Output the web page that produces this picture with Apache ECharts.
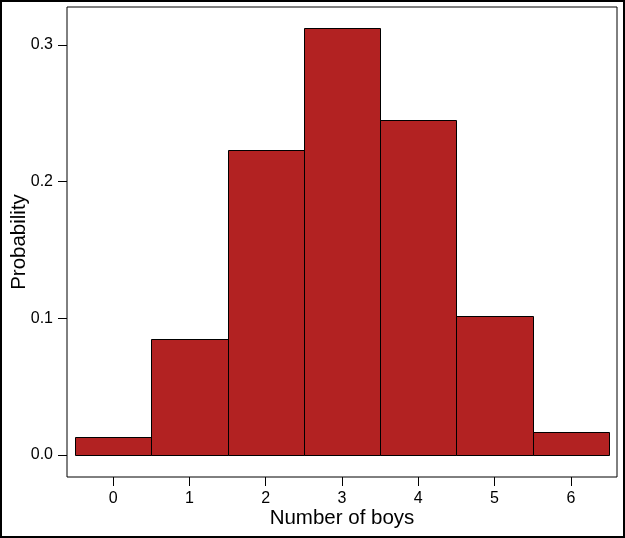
<!DOCTYPE html>
<html>
<head>
<meta charset="utf-8">
<script src="https://cdn.jsdelivr.net/npm/echarts@6/dist/echarts.min.js"></script>
<style>
  html, body { margin: 0; padding: 0; background: #fff; }
  #bar { width: 625px; height: 538px; }
</style>
</head>
<body>
<div id="bar"></div>
<script>
// number of boys and probability
const boys = [0, 1, 2, 3, 4, 5, 6];
const probability = [0.013, 0.085, 0.223, 0.312, 0.245, 0.102, 0.017];
const yTicks = [0, 0.1, 0.2, 0.3];

const font = 'Liberation Sans, Arial, sans-serif';
const myChart = echarts.init(document.getElementById('bar'));

myChart.setOption({
  animation: false,
  graphic: [{
    type: 'rect',
    shape: {x: 1, y: 1, width: 623, height: 536},
    style: {fill: 'none', stroke: '#000', lineWidth: 2},
    silent: true
  }],
  grid: {
    left: 67, right: 8, top: 7, bottom: 61,
    containLabel: false, outerBoundsMode: 'none',
    show: true, borderColor: '#000', borderWidth: 1
  },
  xAxis: {
    type: 'value',
    min: -0.605, max: 6.605,
    name: 'Number of boys',
    nameLocation: 'middle',
    nameGap: 31,
    nameMoveOverlap: false,
    nameTextStyle: {fontFamily: font, fontSize: 20.5, color: '#000'},
    splitLine: {show: false},
    axisLine: {show: false, onZero: false},
    axisTick: {show: true, length: 9, customValues: boys, lineStyle: {color: '#000'}},
    axisLabel: {customValues: boys, margin: 14, fontFamily: font, fontSize: 16, color: '#000'}
  },
  yAxis: {
    type: 'value',
    min: -0.0161, max: 0.3277,
    name: 'Probability',
    nameLocation: 'middle',
    nameGap: 37,
    nameMoveOverlap: false,
    nameTextStyle: {fontFamily: font, fontSize: 20.5, color: '#000'},
    splitLine: {show: false},
    axisLine: {show: false, onZero: false},
    axisTick: {show: true, length: 9, customValues: yTicks, lineStyle: {color: '#000'}},
    axisLabel: {
      customValues: yTicks, margin: 14, fontFamily: font, fontSize: 16, color: '#000',
      formatter: v => v.toFixed(1)
    }
  },
  series: [{
    type: 'custom',
    data: boys.map((b, i) => [b, probability[i]]),
    renderItem: (params, api) => {
      const x = api.value(0);
      const topLeft = api.coord([x - 0.5, api.value(1)]);
      const bottomRight = api.coord([x + 0.5, 0]);
      return {
        type: 'rect',
        shape: {
          x: Math.round(topLeft[0]) + 0.5,
          y: Math.round(topLeft[1]) + 0.5,
          width: Math.round(bottomRight[0]) - Math.round(topLeft[0]),
          height: Math.round(bottomRight[1]) - Math.round(topLeft[1])
        },
        style: {fill: '#B22222', stroke: '#000', lineWidth: 1}
      };
    }
  }]
});
</script>
</body>
</html>
